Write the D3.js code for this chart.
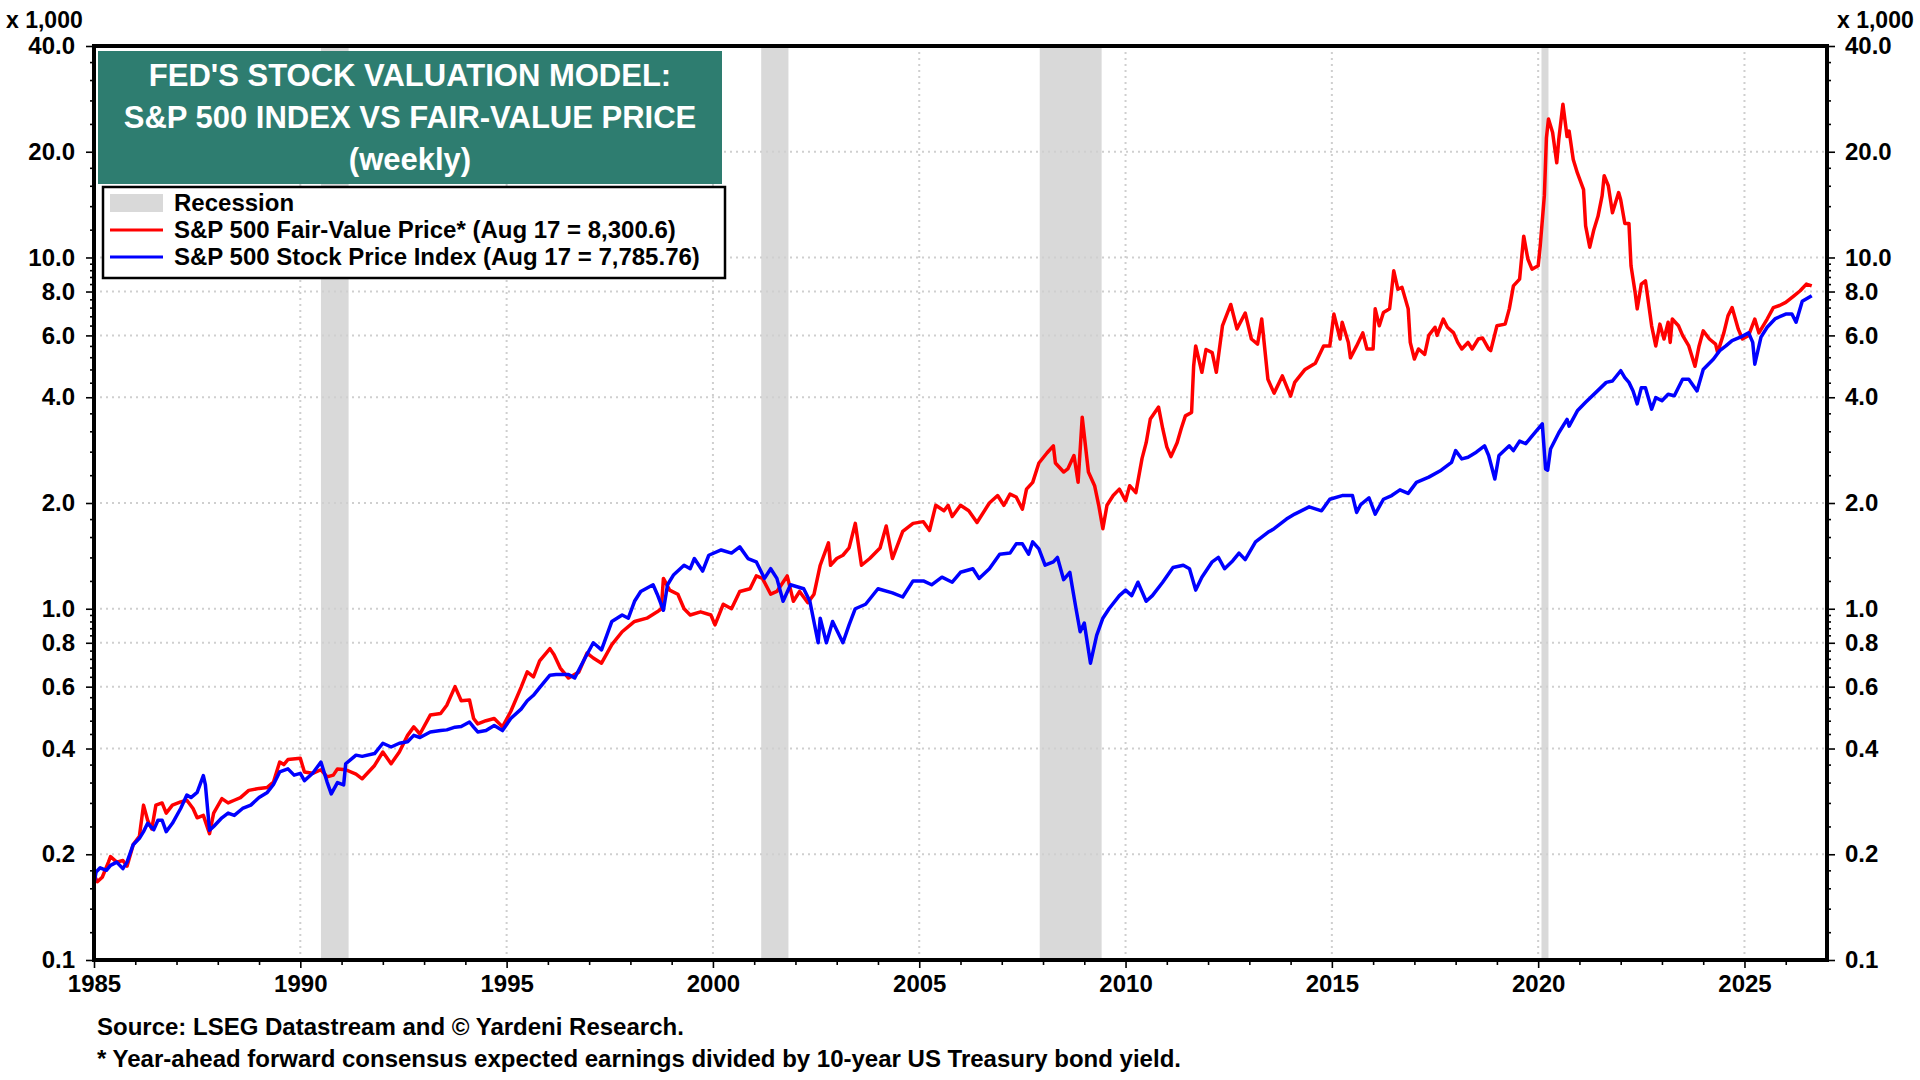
<!DOCTYPE html>
<html>
<head>
<meta charset="utf-8">
<title>Fed's Stock Valuation Model</title>
<script src="https://cdn.jsdelivr.net/npm/d3@7"></script>
<style>
  body { margin: 0; background: #fff; }
  svg { display: block; font-family: "Liberation Sans", Arial, Helvetica, sans-serif; }
  .axis text { font-size: 24px; font-weight: 700; fill: #000; }
  .axis line { stroke: #000; stroke-width: 1.6; }
  .axis path { display: none; }
</style>
</head>
<body>
<svg id="chart"></svg>
<script>
// Fed's stock valuation model: S&P 500 vs fair-value price, log scale, x 1,000.

const Y_TICKS = [0.1, 0.2, 0.4, 0.6, 0.8, 1, 2, 4, 6, 8, 10, 20, 40];
const Y_MINOR = [0.12, 0.14, 0.16, 0.18, 0.24, 0.28, 0.32, 0.36, 0.44, 0.48, 0.52, 0.56,
  0.64, 0.68, 0.72, 0.76, 0.84, 0.88, 0.92, 0.96, 1.2, 1.4, 1.6, 1.8, 2.4, 2.8, 3.2, 3.6,
  4.4, 4.8, 5.2, 5.6, 6.4, 6.8, 7.2, 7.6, 8.4, 8.8, 9.2, 9.6, 12, 14, 16, 18, 24, 28, 32, 36];
const X_TICKS = [1985, 1990, 1995, 2000, 2005, 2010, 2015, 2020, 2025];

// NBER recessions [start, end] in decimal years
const RECESSIONS = [[1990.5, 1991.17], [2001.17, 2001.83], [2007.92, 2009.42], [2020.08, 2020.25]];

// S&P 500 Fair-Value Price* (thousands)
const FAIR_VALUE = [
  [1985.00, 0.175], [1985.08, 0.167], [1985.2, 0.172], [1985.35, 0.19], [1985.4, 0.197],
  [1985.55, 0.19], [1985.7, 0.192], [1985.8, 0.185], [1985.95, 0.213], [1986.1, 0.225],
  [1986.2, 0.276], [1986.3, 0.25], [1986.4, 0.236], [1986.5, 0.276], [1986.65, 0.28],
  [1986.75, 0.262], [1986.9, 0.276], [1987.1, 0.282], [1987.25, 0.285], [1987.4, 0.27],
  [1987.5, 0.254], [1987.65, 0.258], [1987.8, 0.229], [1987.9, 0.262], [1988.1, 0.288],
  [1988.25, 0.28], [1988.4, 0.285], [1988.55, 0.29], [1988.75, 0.304], [1989.0, 0.308],
  [1989.2, 0.31], [1989.35, 0.321], [1989.5, 0.366], [1989.6, 0.36], [1989.7, 0.372],
  [1990.0, 0.375], [1990.1, 0.343], [1990.3, 0.34], [1990.5, 0.348], [1990.65, 0.332],
  [1990.8, 0.336], [1990.9, 0.35], [1991.1, 0.348], [1991.35, 0.338], [1991.5, 0.328],
  [1991.8, 0.358], [1992.0, 0.391], [1992.2, 0.362], [1992.4, 0.391], [1992.6, 0.436],
  [1992.75, 0.461], [1992.9, 0.44], [1993.15, 0.498], [1993.4, 0.503], [1993.55, 0.531],
  [1993.75, 0.6], [1993.9, 0.547], [1994.1, 0.55], [1994.2, 0.487], [1994.3, 0.47],
  [1994.5, 0.48], [1994.7, 0.487], [1994.9, 0.461], [1995.1, 0.51], [1995.35, 0.597],
  [1995.5, 0.661], [1995.65, 0.64], [1995.8, 0.71], [1996.05, 0.77], [1996.15, 0.74],
  [1996.3, 0.678], [1996.5, 0.635], [1996.75, 0.66], [1996.95, 0.748], [1997.1, 0.724],
  [1997.3, 0.70], [1997.55, 0.79], [1997.8, 0.86], [1998.1, 0.92], [1998.4, 0.94],
  [1998.65, 0.98], [1998.75, 1.0], [1998.8, 1.22], [1998.95, 1.13], [1999.15, 1.10],
  [1999.3, 1.0], [1999.45, 0.96], [1999.7, 0.98], [1999.95, 0.96], [2000.05, 0.90],
  [2000.25, 1.03], [2000.45, 1.0], [2000.65, 1.12], [2000.9, 1.14], [2001.05, 1.24],
  [2001.2, 1.22], [2001.4, 1.10], [2001.55, 1.12], [2001.8, 1.24], [2001.95, 1.05],
  [2002.1, 1.12], [2002.3, 1.04], [2002.45, 1.10], [2002.6, 1.33], [2002.8, 1.54],
  [2002.85, 1.33], [2003.0, 1.39], [2003.15, 1.42], [2003.3, 1.49], [2003.45, 1.75],
  [2003.6, 1.33], [2003.8, 1.39], [2004.05, 1.49], [2004.2, 1.72], [2004.35, 1.39],
  [2004.6, 1.66], [2004.85, 1.75], [2005.1, 1.77], [2005.25, 1.67], [2005.4, 1.97],
  [2005.6, 1.90], [2005.7, 1.97], [2005.8, 1.83], [2006.0, 1.97], [2006.2, 1.90],
  [2006.4, 1.76], [2006.7, 2.0], [2006.9, 2.1], [2007.05, 1.97], [2007.2, 2.12],
  [2007.35, 2.08], [2007.5, 1.92], [2007.6, 2.19], [2007.75, 2.29], [2007.9, 2.6],
  [2008.1, 2.78], [2008.25, 2.91], [2008.3, 2.6], [2008.5, 2.45], [2008.6, 2.5],
  [2008.75, 2.73], [2008.85, 2.29], [2008.95, 3.51], [2009.1, 2.45], [2009.25, 2.24],
  [2009.35, 1.97], [2009.45, 1.69], [2009.55, 1.97], [2009.7, 2.1], [2009.85, 2.19],
  [2010.0, 2.03], [2010.1, 2.24], [2010.25, 2.14], [2010.4, 2.68], [2010.5, 2.97],
  [2010.6, 3.47], [2010.8, 3.75], [2010.9, 3.26], [2011.0, 2.89], [2011.1, 2.71],
  [2011.25, 2.97], [2011.35, 3.26], [2011.45, 3.54], [2011.6, 3.62], [2011.65, 4.9],
  [2011.7, 5.6], [2011.85, 4.71], [2011.95, 5.47], [2012.1, 5.36], [2012.2, 4.71],
  [2012.35, 6.4], [2012.55, 7.35], [2012.7, 6.26], [2012.9, 6.95], [2013.05, 5.86],
  [2013.2, 5.67], [2013.3, 6.68], [2013.45, 4.5], [2013.6, 4.11], [2013.8, 4.6],
  [2014.0, 4.03], [2014.1, 4.41], [2014.35, 4.8], [2014.6, 5.0], [2014.8, 5.6],
  [2014.95, 5.6], [2015.05, 6.9], [2015.2, 5.86], [2015.25, 6.54], [2015.4, 5.73],
  [2015.45, 5.18], [2015.6, 5.6], [2015.75, 6.1], [2015.85, 5.49], [2016.0, 5.49],
  [2016.05, 7.14], [2016.15, 6.39], [2016.25, 6.97], [2016.4, 7.14], [2016.5, 9.16],
  [2016.6, 8.12], [2016.7, 8.22], [2016.85, 7.14], [2016.9, 5.73], [2017.0, 5.14],
  [2017.1, 5.49], [2017.25, 5.3], [2017.35, 6.0], [2017.5, 6.33], [2017.55, 6.0],
  [2017.7, 6.68], [2017.8, 6.33], [2017.95, 6.1], [2018.05, 5.73], [2018.15, 5.49],
  [2018.3, 5.73], [2018.4, 5.49], [2018.55, 5.86], [2018.65, 5.9], [2018.8, 5.49],
  [2018.85, 5.43], [2018.95, 6.05], [2019.0, 6.39], [2019.2, 6.46], [2019.3, 7.14],
  [2019.4, 8.3], [2019.55, 8.68], [2019.65, 11.5], [2019.75, 9.9], [2019.85, 9.26],
  [2020.0, 9.47], [2020.05, 10.8], [2020.15, 15.0], [2020.2, 21.9], [2020.25, 24.8],
  [2020.35, 22.7], [2020.45, 18.6], [2020.5, 21.7], [2020.6, 27.3], [2020.7, 22.1],
  [2020.75, 22.9], [2020.85, 19.0], [2020.95, 17.4], [2021.1, 15.6], [2021.15, 12.3],
  [2021.25, 10.7], [2021.35, 12.0], [2021.45, 13.1], [2021.55, 15.0], [2021.6, 17.1],
  [2021.7, 16.0], [2021.8, 13.4], [2021.95, 15.3], [2022.0, 14.6], [2022.1, 12.5],
  [2022.2, 12.5], [2022.25, 9.47], [2022.35, 7.95], [2022.4, 7.14], [2022.5, 8.4],
  [2022.6, 8.58], [2022.65, 7.78], [2022.75, 6.39], [2022.85, 5.6], [2022.95, 6.46],
  [2023.05, 5.86], [2023.15, 6.54], [2023.2, 5.73], [2023.25, 6.68], [2023.4, 6.39],
  [2023.5, 6.0], [2023.65, 5.6], [2023.8, 4.9], [2023.9, 5.6], [2024.0, 6.18],
  [2024.15, 5.86], [2024.3, 5.67], [2024.35, 5.36], [2024.5, 6.1], [2024.6, 6.82],
  [2024.7, 7.2], [2024.85, 6.25], [2024.95, 5.86], [2025.1, 6.0], [2025.25, 6.68],
  [2025.35, 6.1], [2025.55, 6.68], [2025.7, 7.2], [2025.85, 7.3], [2026.0, 7.45],
  [2026.2, 7.78], [2026.35, 8.04], [2026.5, 8.4], [2026.63, 8.30]
];

// S&P 500 Stock Price Index (thousands)
const STOCK_PRICE = [
  [1985.0, 0.165], [1985.05, 0.178], [1985.15, 0.183], [1985.3, 0.18], [1985.4, 0.186],
  [1985.55, 0.19], [1985.7, 0.182], [1985.8, 0.19], [1985.95, 0.213], [1986.1, 0.222],
  [1986.2, 0.232], [1986.3, 0.245], [1986.45, 0.235], [1986.55, 0.25], [1986.65, 0.25],
  [1986.75, 0.232], [1986.9, 0.245], [1987.1, 0.27], [1987.25, 0.295], [1987.35, 0.29],
  [1987.5, 0.30], [1987.65, 0.335], [1987.7, 0.315], [1987.8, 0.234], [1987.9, 0.24],
  [1988.1, 0.254], [1988.25, 0.262], [1988.4, 0.258], [1988.6, 0.27], [1988.8, 0.276],
  [1989.0, 0.29], [1989.2, 0.30], [1989.35, 0.316], [1989.5, 0.343], [1989.7, 0.35],
  [1989.85, 0.336], [1990.0, 0.34], [1990.1, 0.324], [1990.3, 0.34], [1990.5, 0.366],
  [1990.65, 0.321], [1990.75, 0.297], [1990.9, 0.32], [1991.05, 0.315], [1991.1, 0.362],
  [1991.35, 0.383], [1991.5, 0.38], [1991.8, 0.387], [1992.0, 0.414], [1992.2, 0.404],
  [1992.4, 0.414], [1992.6, 0.418], [1992.75, 0.436], [1992.9, 0.43], [1993.15, 0.446],
  [1993.4, 0.45], [1993.55, 0.452], [1993.75, 0.46], [1993.9, 0.462], [1994.1, 0.476],
  [1994.2, 0.46], [1994.3, 0.446], [1994.5, 0.45], [1994.7, 0.465], [1994.9, 0.45],
  [1995.1, 0.487], [1995.35, 0.518], [1995.5, 0.547], [1995.65, 0.567], [1995.8, 0.596],
  [1996.05, 0.647], [1996.2, 0.65], [1996.5, 0.65], [1996.65, 0.635], [1996.9, 0.724],
  [1997.1, 0.80], [1997.3, 0.764], [1997.55, 0.92], [1997.8, 0.96], [1997.95, 0.94],
  [1998.1, 1.05], [1998.25, 1.12], [1998.55, 1.17], [1998.65, 1.10], [1998.8, 0.99],
  [1998.9, 1.17], [1999.05, 1.25], [1999.3, 1.33], [1999.45, 1.30], [1999.55, 1.39],
  [1999.75, 1.28], [1999.9, 1.42], [2000.2, 1.47], [2000.45, 1.44], [2000.65, 1.50],
  [2000.85, 1.39], [2001.05, 1.36], [2001.25, 1.22], [2001.4, 1.30], [2001.55, 1.22],
  [2001.7, 1.05], [2001.88, 1.17], [2002.2, 1.14], [2002.35, 1.05], [2002.55, 0.80],
  [2002.6, 0.94], [2002.75, 0.80], [2002.9, 0.92], [2003.15, 0.80], [2003.3, 0.90],
  [2003.45, 1.0], [2003.7, 1.03], [2004.0, 1.14], [2004.35, 1.11], [2004.6, 1.08],
  [2004.85, 1.2], [2005.1, 1.2], [2005.3, 1.17], [2005.55, 1.23], [2005.8, 1.19],
  [2006.0, 1.27], [2006.3, 1.30], [2006.45, 1.22], [2006.7, 1.30], [2006.95, 1.43],
  [2007.2, 1.44], [2007.35, 1.53], [2007.5, 1.53], [2007.65, 1.43], [2007.75, 1.55],
  [2007.9, 1.48], [2008.05, 1.33], [2008.25, 1.36], [2008.35, 1.40], [2008.5, 1.21],
  [2008.65, 1.27], [2008.7, 1.17], [2008.8, 1.0], [2008.9, 0.86], [2009.0, 0.91],
  [2009.15, 0.70], [2009.3, 0.84], [2009.45, 0.94], [2009.6, 1.0], [2009.85, 1.09],
  [2010.0, 1.13], [2010.15, 1.09], [2010.3, 1.19], [2010.5, 1.05], [2010.65, 1.09],
  [2010.9, 1.19], [2011.15, 1.31], [2011.4, 1.33], [2011.55, 1.30], [2011.7, 1.13],
  [2011.85, 1.23], [2012.1, 1.36], [2012.25, 1.40], [2012.4, 1.30], [2012.6, 1.37],
  [2012.75, 1.44], [2012.9, 1.38], [2013.15, 1.55], [2013.45, 1.65], [2013.6, 1.69],
  [2013.9, 1.80], [2014.1, 1.86], [2014.45, 1.95], [2014.75, 1.90], [2014.95, 2.05],
  [2015.25, 2.10], [2015.5, 2.10], [2015.6, 1.88], [2015.7, 1.98], [2015.9, 2.07],
  [2016.05, 1.86], [2016.25, 2.05], [2016.45, 2.1], [2016.65, 2.18], [2016.85, 2.13],
  [2017.05, 2.29], [2017.35, 2.37], [2017.65, 2.48], [2017.9, 2.61], [2018.0, 2.82],
  [2018.15, 2.67], [2018.3, 2.70], [2018.5, 2.79], [2018.7, 2.91], [2018.8, 2.73],
  [2018.95, 2.34], [2019.05, 2.73], [2019.3, 2.91], [2019.4, 2.82], [2019.55, 3.0],
  [2019.7, 2.95], [2019.85, 3.1], [2020.1, 3.36], [2020.18, 2.5], [2020.23, 2.48],
  [2020.3, 2.85], [2020.5, 3.17], [2020.7, 3.46], [2020.75, 3.31], [2020.95, 3.66],
  [2021.15, 3.87], [2021.4, 4.13], [2021.65, 4.41], [2021.8, 4.45], [2022.0, 4.76],
  [2022.1, 4.55], [2022.2, 4.41], [2022.3, 4.17], [2022.4, 3.83], [2022.5, 4.26],
  [2022.6, 4.26], [2022.75, 3.70], [2022.85, 3.99], [2023.0, 3.91], [2023.15, 4.08],
  [2023.3, 4.04], [2023.5, 4.5], [2023.65, 4.5], [2023.85, 4.17], [2024.0, 4.8],
  [2024.25, 5.14], [2024.4, 5.43], [2024.55, 5.6], [2024.7, 5.8], [2024.9, 5.93],
  [2025.1, 6.1], [2025.2, 5.73], [2025.25, 4.97], [2025.4, 5.93], [2025.55, 6.33],
  [2025.75, 6.7], [2026.0, 6.9], [2026.15, 6.9], [2026.25, 6.54], [2026.4, 7.5],
  [2026.63, 7.786]
];

const TITLE_LINES = ["FED'S STOCK VALUATION MODEL:", "S&P 500 INDEX VS FAIR-VALUE PRICE", "(weekly)"];
const LEGEND_ITEMS = [
  { label: "Recession", type: "band", color: "#d9d9d9" },
  { label: "S&P 500 Fair-Value Price* (Aug 17 = 8,300.6)", type: "line", color: "#ff0000" },
  { label: "S&P 500 Stock Price Index (Aug 17 = 7,785.76)", type: "line", color: "#0000ff" }
];
const FOOTNOTES = [
  "Source: LSEG Datastream and \u00a9 Yardeni Research.",
  "* Year-ahead forward consensus expected earnings divided by 10-year US Treasury bond yield."
];

(function () {
  const W = 1920, H = 1080;
  const P = { left: 94, right: 1827, top: 46, bottom: 960 };
  const TEAL = "#2e7d70";
  const GRID = "#cfcfcf";

  const svg = d3.select("#chart").attr("width", W).attr("height", H);
  svg.append("rect").attr("width", W).attr("height", H).attr("fill", "#fff");

  const x = d3.scaleLinear().domain([1985, 2027]).range([P.left, P.right]);
  const y = d3.scaleLog().domain([0.1, 40]).range([P.bottom, P.top]);

  // Recession bands
  svg.append("g").selectAll("rect")
    .data(RECESSIONS).join("rect")
    .attr("x", d => x(d[0]))
    .attr("width", d => x(d[1]) - x(d[0]))
    .attr("y", P.top).attr("height", P.bottom - P.top)
    .attr("fill", "#d9d9d9");

  // Dotted gridlines
  const grid = svg.append("g")
    .attr("stroke", GRID).attr("stroke-width", 2).attr("stroke-dasharray", "2,4");
  grid.selectAll(".gy")
    .data(Y_TICKS.filter(v => v > 0.1 && v < 40)).join("line")
    .attr("x1", P.left).attr("x2", P.right)
    .attr("y1", d => y(d)).attr("y2", d => y(d));
  grid.selectAll(".gx")
    .data(X_TICKS.filter(v => v > 1985)).join("line")
    .attr("x1", d => x(d)).attr("x2", d => x(d))
    .attr("y1", P.top).attr("y2", P.bottom);

  // Series lines
  const line = d3.line().x(d => x(d[0])).y(d => y(d[1]));
  [[FAIR_VALUE, "#ff0000"], [STOCK_PRICE, "#0000ff"]].forEach(([data, color]) => {
    svg.append("path")
      .datum(data)
      .attr("fill", "none")
      .attr("stroke", color)
      .attr("stroke-width", 3.5)
      .attr("stroke-linejoin", "round")
      .attr("d", line);
  });

  // Axes
  const fmt = d3.format(".1f");
  svg.append("g").attr("class", "axis")
    .attr("transform", `translate(${P.left},0)`)
    .call(d3.axisLeft(y).tickValues(Y_MINOR).tickSize(4).tickFormat(""));
  svg.append("g").attr("class", "axis")
    .attr("transform", `translate(${P.left},0)`)
    .call(d3.axisLeft(y).tickValues(Y_TICKS).tickSize(8).tickPadding(11).tickFormat(fmt));
  svg.append("g").attr("class", "axis")
    .attr("transform", `translate(${P.right},0)`)
    .call(d3.axisRight(y).tickValues(Y_MINOR).tickSize(4).tickFormat(""));
  svg.append("g").attr("class", "axis")
    .attr("transform", `translate(${P.right},0)`)
    .call(d3.axisRight(y).tickValues(Y_TICKS).tickSize(8).tickPadding(10).tickFormat(fmt));

  svg.append("g").attr("class", "axis")
    .attr("transform", `translate(0,${P.bottom})`)
    .call(d3.axisBottom(x).tickValues(d3.range(1986, 2027).filter(v => v % 5)).tickSize(5).tickFormat(""));
  svg.append("g").attr("class", "axis")
    .attr("transform", `translate(0,${P.bottom})`)
    .call(d3.axisBottom(x).tickValues(X_TICKS).tickSize(8).tickPadding(7).tickFormat(d3.format("d")));

  // Frame
  svg.append("rect")
    .attr("x", P.left).attr("y", P.top)
    .attr("width", P.right - P.left).attr("height", P.bottom - P.top)
    .attr("fill", "none").attr("stroke", "#000").attr("stroke-width", 4);

  // Unit labels
  svg.append("text").attr("x", 6).attr("y", 28)
    .attr("font-size", 23).attr("font-weight", 700).text("x 1,000");
  svg.append("text").attr("x", 1837).attr("y", 28)
    .attr("font-size", 23).attr("font-weight", 700).text("x 1,000");

  // Title box
  svg.append("rect")
    .attr("x", 98).attr("y", 51).attr("width", 624).attr("height", 133)
    .attr("fill", TEAL);
  svg.append("g").selectAll("text")
    .data(TITLE_LINES).join("text")
    .attr("x", 410)
    .attr("y", (d, i) => 86 + i * 42)
    .attr("text-anchor", "middle")
    .attr("fill", "#fff")
    .attr("font-size", 31)
    .attr("font-weight", 700)
    .text(d => d);

  // Legend
  const lg = svg.append("g");
  lg.append("rect")
    .attr("x", 103).attr("y", 187).attr("width", 622).attr("height", 91)
    .attr("fill", "#fff").attr("stroke", "#000").attr("stroke-width", 2.5);
  LEGEND_ITEMS.forEach((it, i) => {
    const cy = 203 + i * 27;
    if (it.type === "band") {
      lg.append("rect").attr("x", 110).attr("y", cy - 9).attr("width", 53).attr("height", 18)
        .attr("fill", it.color);
    } else {
      lg.append("line").attr("x1", 110).attr("x2", 163).attr("y1", cy).attr("y2", cy)
        .attr("stroke", it.color).attr("stroke-width", 3);
    }
    lg.append("text").attr("x", 174).attr("y", cy + 8)
      .attr("font-size", 24).attr("font-weight", 700).text(it.label);
  });

  // Footnotes
  svg.append("g").selectAll("text")
    .data(FOOTNOTES).join("text")
    .attr("x", 97)
    .attr("y", (d, i) => 1035 + i * 32)
    .attr("font-size", 24)
    .attr("font-weight", 700)
    .text(d => d);
})();
</script>
</body>
</html>
